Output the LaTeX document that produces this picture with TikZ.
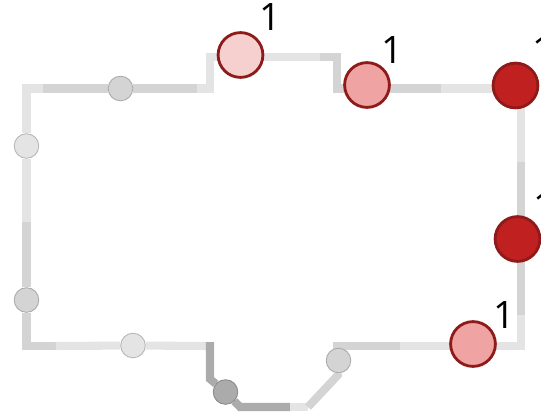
\documentclass[tikz,border=0pt]{standalone}
\usepackage{fontspec}
\setmainfont{Open Sans}
\usetikzlibrary{backgrounds}
\definecolor{wirelight}{HTML}{E4E4E4}
\definecolor{wiremid}{HTML}{D4D4D4}
\definecolor{wiredark}{HTML}{ABABAB}
\definecolor{hotrim}{HTML}{8E1A1A}
\definecolor{hotpale}{HTML}{F6CFCF}
\definecolor{hotpink}{HTML}{EFA3A3}
\definecolor{hotred}{HTML}{C02020}
\tikzset{
  wire/.style={line width=4.6pt,line join=miter,color=#1},
  stop/.style={circle,inner sep=0pt,minimum size=14pt,line width=.5pt,draw=#1!80!black,fill=#1},
  hot/.style={circle,inner sep=0pt,minimum size=25.5pt,line width=1.6pt,draw=hotrim,fill=#1},
  count/.style={font=\fontsize{21.5}{24}\selectfont,text=black,inner sep=0pt}
}
\begin{document}
\begin{tikzpicture}[x=0.02cm,y=-0.02cm]
  \useasboundingbox (0,0) rectangle (541,413);
  \draw
    (120.5,88.5) node[stop=wiremid] (g1){}
    (26.5,146) node[stop=wirelight] (g2){}
    (26.5,300) node[stop=wiremid] (g3){}
    (133,345.5) node[stop=wirelight] (g4){}
    (225.5,392) node[stop=wiredark] (g5){}
    (338.5,360.5) node[stop=wiremid] (g6){}
    (240.5,55) node[hot=hotpale] (pale){}
    (367,85) node[hot=hotpink] (pink){}
    (515.5,85.5) node[hot=hotred] (redtop){}
    (517.5,239) node[hot=hotred] (redlow){}
    (473,344) node[hot=hotpink] (pinklow){};
  \node[count] (n1) at (270,17.5) {1};
  \node[count] (n2) at (392.5,50.5) {1};
  \node[count] (n3) at (543,50.5) {1};
  \node[count] (n4) at (544,206) {1};
  \node[count] (n5) at (504,315) {1};
  \coordinate (a1) at (43,88.5);
  \coordinate (a2) at (197,88.5);
  \coordinate (a3) at (210,88.5);
  \coordinate (a4) at (210,57);
  \coordinate (a5) at (320,57);
  \coordinate (a6) at (337,57);
  \coordinate (a7) at (337,88.5);
  \coordinate (a8) at (441,88.5);
  \coordinate (a9) at (521,88.5);
  \coordinate (a10) at (521,162);
  \coordinate (a11) at (521,315);
  \coordinate (a12) at (521,346);
  \coordinate (a13) at (400,346);
  \coordinate (a14) at (333,346);
  \coordinate (b1) at (26.5,88.5);
  \coordinate (b2) at (26.5,222);
  \coordinate (b3) at (26.5,346);
  \coordinate (b4) at (56,346);
  \coordinate (b5) at (210,346);
  \coordinate (b6) at (210,342);
  \coordinate (b7) at (210,379);
  \coordinate (b8) at (240,407);
  \coordinate (b9) at (290,407);
  \coordinate (b10) at (308,407);
  \coordinate (b11) at (338,375);
  \begin{scope}[on background layer]
    \draw[wire=wirelight] (a1) -- (b1) -- (g2) -- (b2);
    \draw[wire=wiremid] (a1) -- (g1) -- (a2);
    \draw[wire=wirelight] (a2) -- (a3) -- (a4) -- (a4 -| pale);
    \draw[wire=wirelight] (a4 -| pale) -- (a5);
    \draw[wire=wiremid] (a5) -- (a6) -- (a7) -- (a7 -| pink);
    \draw[wire=wiremid] (a7 -| pink) -- (a8);
    \draw[wire=wirelight] (a8) -- (a9) -- (a10);
    \draw[wire=wiremid] (a10) -- (a10 |- redlow) -- (a11);
    \draw[wire=wirelight] (a11) -- (a12) -- (a13);
    \draw[wire=wiremid] (a13) -- (a14);
    \draw[wire=wiremid] (b2) -- (g3) -- (b3) -- (b4);
    \draw[wire=wirelight] (b4) -- (g4) -- (b5);
    \draw[wire=wiredark] (b6) -- (b7) -- (g5) -- (b8) -- (b9);
    \draw[wire=wirelight] (b9) -- (b10);
    \draw[wire=wiremid] (b10) -- (b11) -- (g6);
  \end{scope}
\end{tikzpicture}
\end{document}
